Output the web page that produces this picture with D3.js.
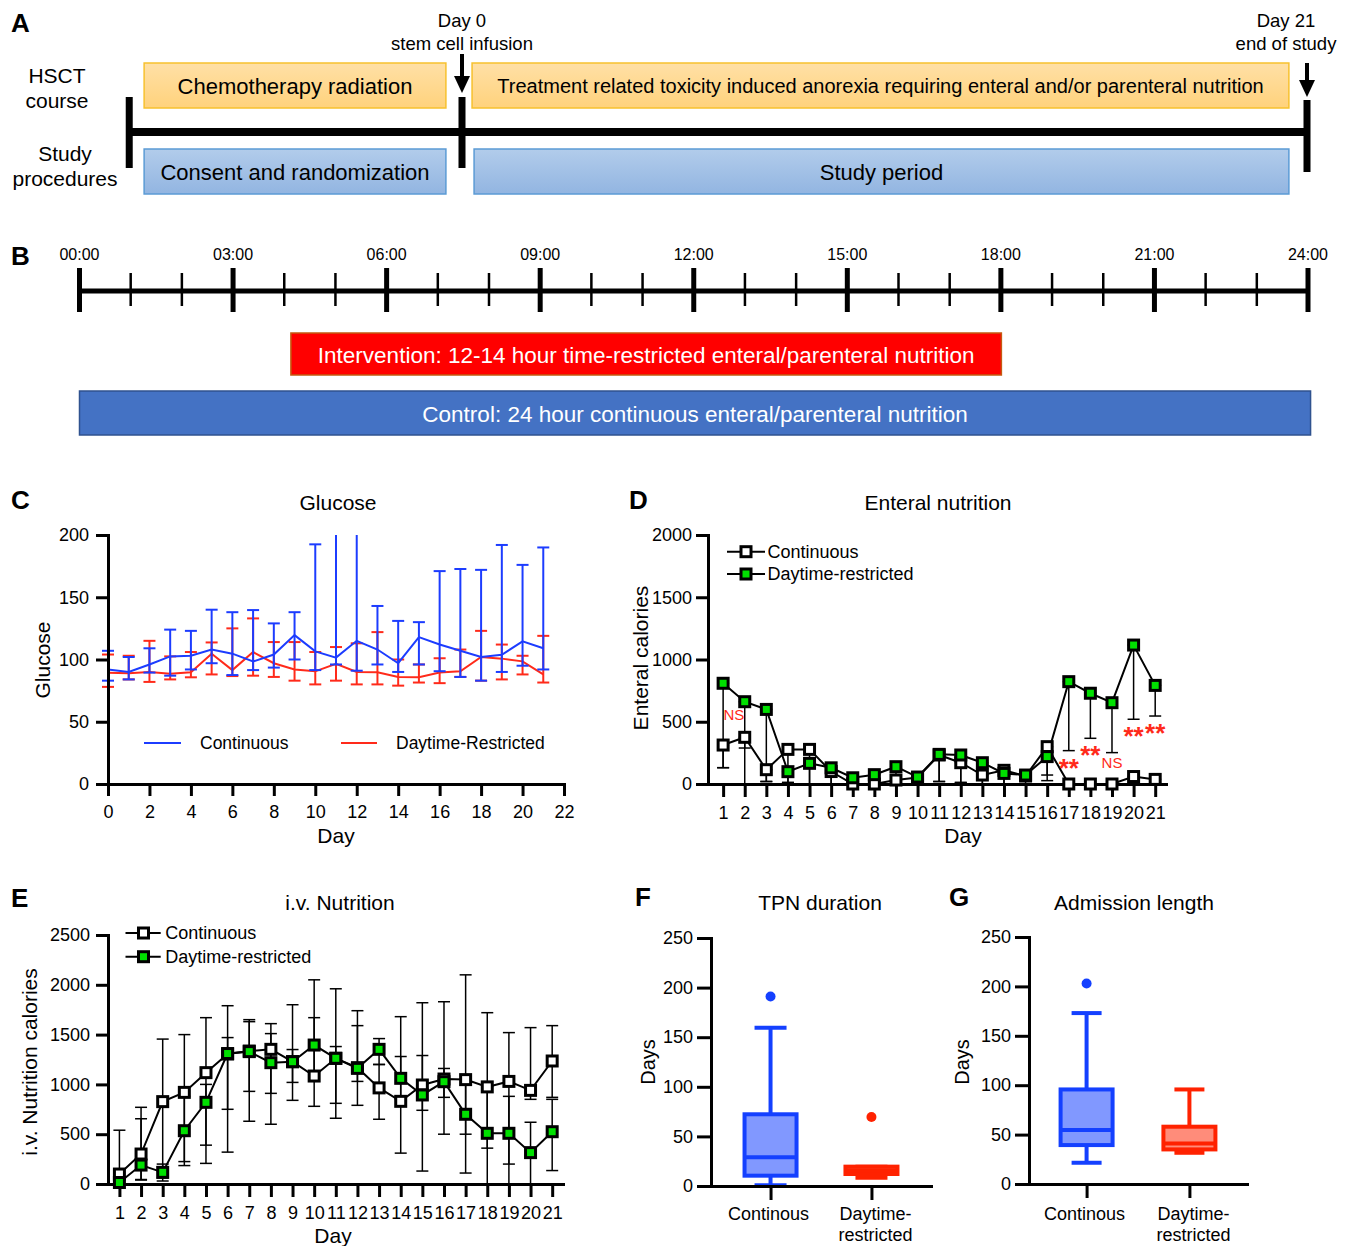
<!DOCTYPE html>
<html>
<head>
<meta charset="utf-8">
<script src="https://cdn.jsdelivr.net/npm/d3@7"></script>
<style>
  body { margin: 0; background: #fff; }
  svg { display: block; font-family: 'Liberation Sans', Arial, Helvetica, sans-serif; }
  .axis { font-family: 'Liberation Sans', Arial, Helvetica, sans-serif; font-size: 18px; }
  .axis text { fill: #000; }
</style>
</head>
<body>
<svg id="fig" width="1354" height="1246"></svg>
<script>
// ========== 数据 ==========
// A: 研究时间线 (相对干细胞输注的天数)
const studyStart = -8.27, studyEnd = 21;
const hsctLabels = ['Chemotherapy radiation', 'Treatment related toxicity induced anorexia requiring enteral and/or parenteral nutrition'];
const hsctFrom = [-7.9, 0.25];
const hsctTo = [-0.4, 20.55];
const studyLabels = ['Consent and randomization', 'Study period'];
const studyFrom = [-7.9, 0.3];
const studyTo = [-0.4, 20.55];
const markerDays = [0, 21];
const markerText = [['Day 0', 'stem cell infusion'], ['Day 21', 'end of study']];

// B: 24 小时喂养时间
const hourLabels = ['00:00', '03:00', '06:00', '09:00', '12:00', '15:00', '18:00', '21:00', '24:00'];
const hourTicks = [0,1,2,3,4,5,6,7,8,9,10,11,12,13,14,15,16,17,18,19,20,21,22,23,24];
const interventionHours = [4.13, 18.01];
const controlHours = [0, 24.05];

// C: Glucose
const glucoseDays = [0,1,2,3,4,5,6,7,8,9,10,11,12,13,14,15,16,17,18,19,20,21];
const glucoseTicks = [0,2,4,6,8,10,12,14,16,18,20,22];
const contGlu = [92, 90, 96, 102.5, 103, 108, 104.7, 98.4, 104, 119.6, 106.5, 101.5, 115, 108, 97, 118, 112, 107, 102, 103.8, 114.6, 109];
const contGluHi = [107, 102, 109, 124, 123, 140, 138, 139.7, 129, 138, 192.5, 240, 240, 143, 131, 130, 171, 172.7, 172, 192, 176, 190];
const contGluLo = [83, 84, 89.5, 87, 92, 97, 87.5, 91.5, 93.5, 100, 91.5, 96, 91, 96, 90, 96, 90.6, 86, 83, 90, 95, 92];
const dtrGlu = [89.4, 89, 90, 88.5, 89.8, 104.6, 91.5, 106, 97, 92, 90.5, 96.5, 90, 89.7, 86, 85.7, 89.6, 90.5, 102, 100.7, 98.5, 88];
const dtrGluHi = [104, 103, 115, 102.5, 106, 113.7, 125, 133, 114, 114, 106, 110, 113, 122, 100, 96, 101, 108, 123, 112, 103, 119];
const dtrGluLo = [78, 84, 82, 84, 85.7, 88, 86.7, 87, 86, 83, 80, 83, 80, 80, 79, 81.5, 81, 86, 83, 84, 88, 81.5];

// D: Enteral nutrition
const nutDays = [1,2,3,4,5,6,7,8,9,10,11,12,13,14,15,16,17,18,19,20,21];
const entCont = [313, 375, 115, 278, 278, 100, 0, 0, 32, 52, 233, 171, 72, 110, 64, 300, 0, 0, 0, 60, 37];
const entContLo = [131, 289, 20, 12, 0, 0, 0, 0, 0, 0, 20, 12, 0, 0, 0, 72, 0, 0, 0, 0, 0];
const entDtr = [809, 661, 599, 99, 166, 130, 50, 75, 139, 56, 238, 233, 171, 85, 72, 220, 822, 729, 653, 1116, 792];
const entDtrLo = [131, 0, 20, 12, 0, 0, 0, 0, 0, 20, 20, 12, 0, 0, 40, 27, 268, 367, 252, 520, 546];
const sigDays = [1.5, 17, 18, 19, 20, 21];
const sigLabels = ['NS', '**', '**', 'NS', '**', '**'];
const sigAt = [640, 268, 367, 252, 520, 546];

// E: i.v. Nutrition
const ivCont = [100, 301, 827, 920, 1118, 1305, 1335, 1352, 1228, 1084, 1262, 1168, 965, 830, 994, 1054, 1048, 975, 1030, 940, 1235];
const ivContHi = [540, 770, 1455, 1500, 1670, 1790, 1650, 1610, 1800, 2050, 1960, 1740, 1200, 1280, 1820, 1830, 2100, 1720, 1520, 1570, 1590];
const ivContLo = [0, 40, 60, 225, 390, 320, 630, 910, 840, 780, 660, 790, 650, 310, 130, 500, 500, 360, 200, 850, 870];
const ivDtr = [15, 190, 117, 535, 820, 1310, 1329, 1218, 1228, 1395, 1262, 1161, 1352, 1061, 894, 1027, 700, 509, 509, 315, 525];
const ivDtrHi = [60, 655, 200, 880, 1000, 1470, 1630, 1510, 1350, 1670, 1380, 1590, 1460, 1680, 1290, 1160, 1050, 980, 880, 620, 850];
const ivDtrLo = [0, 45, 30, 185, 207, 750, 930, 600, 1020, 1130, 810, 1030, 1200, 850, 740, 870, 110, 0, 0, 0, 135];

// F, G: 箱线图
const boxGroups = ['Continous', 'Daytime-restricted'];
const tpnMin = [0.7, 8.4], tpnQ1 = [10.4, 12.1], tpnMed = [29, 15.8], tpnQ3 = [72.3, 19.5], tpnMax = [159.6, 19.5];
const tpnOut = [191, 69.5];
const admMin = [21.5, 31.6], admQ1 = [39.4, 35], admMed = [54.6, 41], admQ3 = [95.7, 58], admMax = [173, 95.7];
const admOut = [203, null];

// ========== 绘图 ==========
const svg = d3.select('#fig');
const defs = svg.append('defs');
const BLUE = '#1c3cff', RED = '#ff2a1a', GREEN = '#00e000';
const fmt = d3.format('d');

function grad(id, c1, c2) {
  const g = defs.append('linearGradient').attr('id', id).attr('x1', 0).attr('x2', 0).attr('y1', 0).attr('y2', 1);
  g.append('stop').attr('offset', '0%').attr('stop-color', c1);
  g.append('stop').attr('offset', '100%').attr('stop-color', c2);
}
grad('gOrange', '#ffe0a6', '#ffd27c');
grad('gBlue', '#b2cceb', '#92b5e1');

function label(x, y, t, size, opts = {}) {
  return svg.append('text').attr('x', x).attr('y', y)
    .attr('font-size', size)
    .attr('text-anchor', opts.anchor || 'middle')
    .attr('dominant-baseline', 'central')
    .attr('font-weight', opts.bold ? 'bold' : null)
    .attr('fill', opts.fill || '#000')
    .attr('transform', opts.rotate ? `rotate(-90,${x},${y})` : null)
    .text(t);
}

function letter(t, x, y) {
  svg.append('text').attr('x', x).attr('y', y).attr('font-size', 26).attr('font-weight', 'bold').text(t);
}

function styleAxis(g) {
  g.attr('class', 'axis').attr('font-size', null).attr('font-family', null);
  g.select('.domain').attr('stroke-width', 3).attr('stroke-linecap', 'square');
  g.selectAll('.tick line').attr('stroke-width', 3);
  return g;
}

// ---------- A ----------
letter('A', 11, 32);
const xA = d3.scaleLinear().domain([0, 21]).range([462, 1307]);

label(57, 75, 'HSCT', 21); label(57, 100, 'course', 21);
label(65, 153, 'Study', 21); label(65, 178, 'procedures', 21);

svg.append('line').attr('x1', xA(studyStart)).attr('x2', xA(studyEnd))
  .attr('y1', 132).attr('y2', 132).attr('stroke', '#000').attr('stroke-width', 8);
[studyStart, 0, 21].forEach((d, i) => {
  svg.append('rect').attr('x', xA(d) - 3.5).attr('width', 7)
    .attr('y', i === 2 ? 100 : 97).attr('height', i === 2 ? 72 : 71).attr('fill', '#000');
});

hsctLabels.forEach((t, i) => {
  svg.append('rect').attr('x', xA(hsctFrom[i])).attr('y', 63)
    .attr('width', xA(hsctTo[i]) - xA(hsctFrom[i])).attr('height', 45)
    .attr('fill', 'url(#gOrange)').attr('stroke', '#f7c12e').attr('stroke-width', 1.5);
  label((xA(hsctFrom[i]) + xA(hsctTo[i])) / 2, 86, t, i === 0 ? 22 : 20);
});
studyLabels.forEach((t, i) => {
  svg.append('rect').attr('x', xA(studyFrom[i])).attr('y', 149)
    .attr('width', xA(studyTo[i]) - xA(studyFrom[i])).attr('height', 45)
    .attr('fill', 'url(#gBlue)').attr('stroke', '#5b9bd5').attr('stroke-width', 1.5);
  label((xA(studyFrom[i]) + xA(studyTo[i])) / 2, 172, t, 22);
});

// 箭头
markerDays.forEach((d, i) => {
  const x = xA(d), top = i === 0 ? 54 : 63, tip = i === 0 ? 93 : 97;
  svg.append('rect').attr('x', x - 2).attr('y', top).attr('width', 4).attr('height', tip - top - 14).attr('fill', '#000');
  svg.append('path').attr('d', `M${x - 8},${tip - 17}L${x + 8},${tip - 17}L${x},${tip}Z`).attr('fill', '#000');
  const tx = i === 0 ? x : x - 21;
  label(tx, 20, markerText[i][0], 18.5);
  label(tx, 43, markerText[i][1], 18.5);
});

// ---------- B ----------
letter('B', 11, 265);
const xB = d3.scaleLinear().domain([0, 24]).range([79.5, 1308]);
svg.append('line').attr('x1', xB(0)).attr('x2', xB(24)).attr('y1', 291).attr('y2', 291)
  .attr('stroke', '#000').attr('stroke-width', 5);
svg.append('g').selectAll('line').data(hourTicks).join('line')
  .attr('x1', d => xB(d)).attr('x2', d => xB(d))
  .attr('y1', d => d % 3 === 0 ? 268 : 273)
  .attr('y2', d => d % 3 === 0 ? 312 : 306)
  .attr('stroke', '#000')
  .attr('stroke-width', d => d % 3 === 0 ? 5 : 2.5);
hourLabels.forEach((t, i) => label(xB(i * 3), 254, t, 16));

svg.append('rect').attr('x', xB(interventionHours[0])).attr('y', 333)
  .attr('width', xB(interventionHours[1]) - xB(interventionHours[0])).attr('height', 42)
  .attr('fill', '#ff0000').attr('stroke', '#c55a11').attr('stroke-width', 1.5);
label((xB(interventionHours[0]) + xB(interventionHours[1])) / 2, 355, 'Intervention: 12-14 hour time-restricted enteral/parenteral nutrition', 22.5, { fill: '#fff' });
svg.append('rect').attr('x', xB(controlHours[0])).attr('y', 391)
  .attr('width', xB(controlHours[1]) - xB(controlHours[0])).attr('height', 44)
  .attr('fill', '#4472c4').attr('stroke', '#2f528f').attr('stroke-width', 1.5);
label((xB(controlHours[0]) + xB(controlHours[1])) / 2, 414, 'Control: 24 hour continuous enteral/parenteral nutrition', 22.5, { fill: '#fff' });

// ---------- 通用: 误差线 ----------
function errorBars(g, days, lo, hi, x, y, color, width, cap) {
  const eg = g.append('g').attr('stroke', color).attr('stroke-width', width);
  eg.selectAll('line.v').data(days).join('line').attr('class', 'v')
    .attr('x1', d => x(d)).attr('x2', d => x(d))
    .attr('y1', (d, i) => y(lo[i])).attr('y2', (d, i) => y(hi[i]));
  [lo, hi].forEach(arr => {
    eg.selectAll(null).data(days).join('line')
      .attr('x1', d => x(d) - cap).attr('x2', d => x(d) + cap)
      .attr('y1', (d, i) => y(arr[i])).attr('y2', (d, i) => y(arr[i]));
  });
}

function seriesLine(g, days, vals, x, y, color, width) {
  g.append('path').datum(vals)
    .attr('d', d3.line().x((d, i) => x(days[i])).y(d => y(d)))
    .attr('fill', 'none').attr('stroke', color).attr('stroke-width', width);
}

function squares(g, days, vals, x, y, fill) {
  g.append('g').selectAll('rect').data(vals).join('rect')
    .attr('x', (d, i) => x(days[i]) - 5).attr('y', d => y(d) - 5)
    .attr('width', 10).attr('height', 10)
    .attr('fill', fill).attr('stroke', '#000').attr('stroke-width', 3);
}

// ---------- C ----------
letter('C', 11, 509);
const xC = d3.scaleLinear().domain([0, 22]).range([108, 564]);
const yC = d3.scaleLinear().domain([0, 200]).range([784, 535]);
defs.append('clipPath').attr('id', 'clipC').append('rect').attr('x', 90).attr('y', 535).attr('width', 490).attr('height', 260);
label(338, 502, 'Glucose', 21);
label(42, 660, 'Glucose', 21, { rotate: true });
label(336, 835, 'Day', 21);

const gC = svg.append('g').attr('clip-path', 'url(#clipC)');
seriesLine(gC, glucoseDays, dtrGlu, xC, yC, RED, 2);
errorBars(gC, glucoseDays, dtrGluLo, dtrGluHi, xC, yC, RED, 2, 6);
seriesLine(gC, glucoseDays, contGlu, xC, yC, BLUE, 2);
errorBars(gC, glucoseDays, contGluLo, contGluHi, xC, yC, BLUE, 2, 6);

styleAxis(svg.append('g').attr('transform', 'translate(108,0)')
  .call(d3.axisLeft(yC).tickValues([0, 50, 100, 150, 200]).tickFormat(fmt).tickSize(12).tickPadding(7).tickSizeOuter(0)));
styleAxis(svg.append('g').attr('transform', 'translate(0,784)')
  .call(d3.axisBottom(xC).tickValues(glucoseTicks).tickFormat(fmt).tickSize(12).tickPadding(9).tickSizeOuter(0)));

svg.append('line').attr('x1', 144).attr('x2', 181).attr('y1', 743).attr('y2', 743).attr('stroke', BLUE).attr('stroke-width', 2);
label(200, 743, 'Continuous', 17.5, { anchor: 'start' });
svg.append('line').attr('x1', 341).attr('x2', 377).attr('y1', 743).attr('y2', 743).attr('stroke', RED).attr('stroke-width', 2);
label(396, 743, 'Daytime-Restricted', 17.5, { anchor: 'start' });

// ---------- D ----------
letter('D', 629, 509);
const xD = d3.scaleLinear().domain([0.3, 21.5]).range([708, 1166]);
const yD = d3.scaleLinear().domain([0, 2000]).range([784, 535]);
label(938, 502, 'Enteral nutrition', 21);
label(640, 658, 'Enteral calories', 21, { rotate: true });
label(963, 835, 'Day', 21);

const gD = svg.append('g');
seriesLine(gD, nutDays, entCont, xD, yD, '#000', 2);
seriesLine(gD, nutDays, entDtr, xD, yD, '#000', 2);
errorBars(gD, nutDays, entContLo, entCont, xD, yD, '#000', 1.5, 6);
errorBars(gD, nutDays, entDtrLo, entDtr, xD, yD, '#000', 1.5, 6);
styleAxis(svg.append('g').attr('transform', 'translate(708,0)')
  .call(d3.axisLeft(yD).tickValues([0, 500, 1000, 1500, 2000]).tickFormat(fmt).tickSize(12).tickPadding(4).tickSizeOuter(0)));
styleAxis(svg.append('g').attr('transform', 'translate(0,784)')
  .call(d3.axisBottom(xD).tickValues(nutDays).tickFormat(fmt).tickSize(13).tickPadding(9).tickSizeOuter(0)));
squares(gD, nutDays, entCont, xD, yD, '#fff');
squares(gD, nutDays, entDtr, xD, yD, GREEN);
gD.raise();

sigLabels.forEach((t, i) => {
  const star = t === '**';
  label(xD(sigDays[i]), yD(sigAt[i]) + (star ? 17 : 10), t, star ? 26 : 15, { fill: RED, bold: star });
});

// 图例
[['Continuous', '#fff', 551.7], ['Daytime-restricted', GREEN, 574]].forEach(([t, f, y]) => {
  svg.append('line').attr('x1', 727).attr('x2', 765).attr('y1', y).attr('y2', y).attr('stroke', '#000').attr('stroke-width', 2);
  svg.append('rect').attr('x', 741).attr('y', y - 5).attr('width', 10).attr('height', 10)
    .attr('fill', f).attr('stroke', '#000').attr('stroke-width', 3);
  label(767.5, y, t, 18, { anchor: 'start' });
});

// ---------- E ----------
letter('E', 11, 907);
const xE = d3.scaleLinear().domain([0.5, 21.5]).range([108.6, 563]);
const yE = d3.scaleLinear().domain([0, 2500]).range([1184, 935]);
label(340, 902, 'i.v. Nutrition', 21);
label(29, 1062, 'i.v. Nutrition calories', 21, { rotate: true });
label(333, 1235, 'Day', 21);

const gE = svg.append('g');
seriesLine(gE, nutDays, ivCont, xE, yE, '#000', 2);
seriesLine(gE, nutDays, ivDtr, xE, yE, '#000', 2);
errorBars(gE, nutDays, ivContLo, ivContHi, xE, yE, '#000', 1.5, 6);
errorBars(gE, nutDays, ivDtrLo, ivDtrHi, xE, yE, '#000', 1.5, 6);
styleAxis(svg.append('g').attr('transform', 'translate(108,0)')
  .call(d3.axisLeft(yE).tickValues([0, 500, 1000, 1500, 2000, 2500]).tickFormat(fmt).tickSize(12).tickPadding(6).tickSizeOuter(0)));
styleAxis(svg.append('g').attr('transform', 'translate(0,1184)')
  .call(d3.axisBottom(xE).tickValues(nutDays).tickFormat(fmt).tickSize(13).tickPadding(9).tickSizeOuter(0)));
squares(gE, nutDays, ivCont, xE, yE, '#fff');
squares(gE, nutDays, ivDtr, xE, yE, GREEN);
gE.raise();

[['Continuous', '#fff', 933], ['Daytime-restricted', GREEN, 956.7]].forEach(([t, f, y]) => {
  svg.append('line').attr('x1', 125.5).attr('x2', 160.7).attr('y1', y).attr('y2', y).attr('stroke', '#000').attr('stroke-width', 2);
  svg.append('rect').attr('x', 138.5).attr('y', y - 5).attr('width', 10).attr('height', 10)
    .attr('fill', f).attr('stroke', '#000').attr('stroke-width', 3);
  label(165.3, y, t, 18, { anchor: 'start' });
});

// ---------- F, G 箱线图 ----------
const boxStroke = ['#1440ff', '#ff2200'];
const boxFill = ['#8198ff', '#ff8c7a'];

function boxPanel(opt) {
  const y = d3.scaleLinear().domain([0, 250]).range([opt.y0, opt.y250]);
  const x = d3.scalePoint().domain(boxGroups).range([opt.xLeft, opt.xRight]).padding(opt.pad);
  label(opt.titleX, 902, opt.title, 21);
  label(opt.daysX, 1062, 'Days', 20, { rotate: true });

  const g = svg.append('g');
  boxGroups.forEach((grp, i) => {
    const cx = x(grp), c = boxStroke[i];
    // 须线
    g.append('line').attr('x1', cx).attr('x2', cx).attr('y1', y(opt.min[i])).attr('y2', y(opt.max[i]))
      .attr('stroke', c).attr('stroke-width', 4);
    [opt.min[i], opt.max[i]].forEach(v => {
      g.append('line').attr('x1', cx - opt.cap).attr('x2', cx + opt.cap).attr('y1', y(v)).attr('y2', y(v))
        .attr('stroke', c).attr('stroke-width', 4);
    });
    // 箱体
    g.append('rect').attr('x', cx - 26).attr('width', 52)
      .attr('y', y(opt.q3[i])).attr('height', y(opt.q1[i]) - y(opt.q3[i]))
      .attr('fill', boxFill[i]).attr('stroke', c).attr('stroke-width', 4);
    g.append('line').attr('x1', cx - 26).attr('x2', cx + 26).attr('y1', y(opt.med[i])).attr('y2', y(opt.med[i]))
      .attr('stroke', c).attr('stroke-width', 4);
    if (opt.out[i] != null) {
      g.append('circle').attr('cx', cx).attr('cy', y(opt.out[i])).attr('r', 5).attr('fill', c);
    }
  });

  styleAxis(svg.append('g').attr('transform', `translate(${opt.xLeft},0)`)
    .call(d3.axisLeft(y).tickValues([0, 50, 100, 150, 200, 250]).tickFormat(fmt).tickSize(14).tickPadding(4).tickSizeOuter(0)));
  styleAxis(svg.append('g').attr('transform', `translate(0,${opt.y0})`)
    .call(d3.axisBottom(x).tickSize(14).tickSizeOuter(0).tickFormat('')));
  label(x(boxGroups[0]) - 2, 1214, 'Continous', 18);
  label(x(boxGroups[1]) + 4, 1214, 'Daytime-', 18);
  label(x(boxGroups[1]) + 4, 1235, 'restricted', 18);
}

letter('F', 635, 906);
boxPanel({ title: 'TPN duration', titleX: 820, daysX: 648, xLeft: 711, xRight: 931, pad: 0.59,
  y0: 1186, y250: 938, cap: 16, min: tpnMin, q1: tpnQ1, med: tpnMed, q3: tpnQ3, max: tpnMax, out: tpnOut });
letter('G', 949, 906);
boxPanel({ title: 'Admission length', titleX: 1134, daysX: 962, xLeft: 1029, xRight: 1247, pad: 0.56,
  y0: 1184, y250: 937, cap: 15, min: admMin, q1: admQ1, med: admMed, q3: admQ3, max: admMax, out: admOut });
</script>
</body>
</html>
